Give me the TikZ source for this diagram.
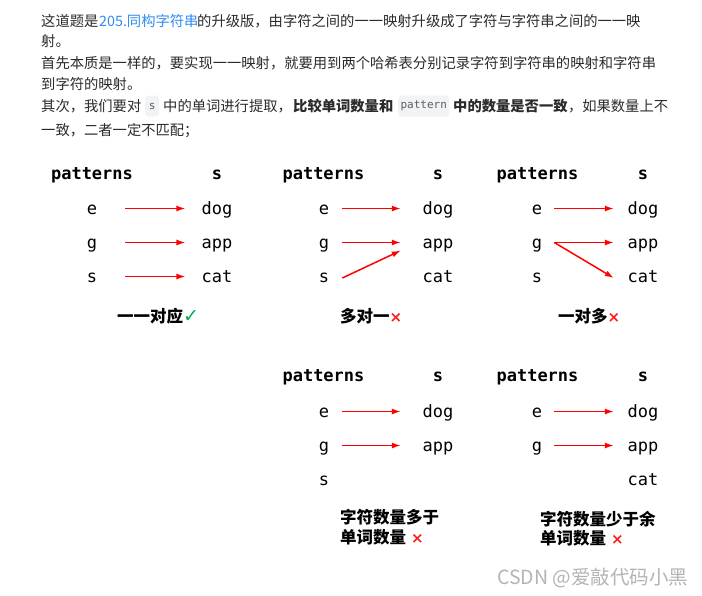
\documentclass[tikz,border=0pt]{standalone}
\usepackage{fontspec}
\setmainfont{Noto Sans CJK SC}
\newfontfamily\monof{DejaVu Sans Mono}
\newfontfamily\symf{DejaVu Sans}
\usetikzlibrary{arrows.meta}
\definecolor{bodyc}{HTML}{2B2B2B}
\definecolor{linkc}{HTML}{2F8CF2}
\definecolor{codebg}{HTML}{F2F3F5}
\definecolor{codetx}{HTML}{5A5F66}
\definecolor{arrred}{HTML}{FF0000}
\definecolor{xred}{HTML}{FF1A1A}
\definecolor{ckgreen}{HTML}{00B050}
\definecolor{wmc}{HTML}{B4B4B4}
\begin{document}
\begin{tikzpicture}[x=1pt,y=-1pt,
  body/.style={anchor=base west, inner sep=0, font=\fontsize{14.3}{17}\selectfont, text=bodyc},
  bodyb/.style={body, font=\bfseries\fontsize{14.3}{17}\selectfont},
  codebox/.style={anchor=west, fill=codebg, rounded corners=3.5pt, text=codetx,
    font=\monof\fontsize{11}{13}\selectfont, inner xsep=0pt, inner ysep=0pt, minimum height=21pt},
  mono/.style={inner sep=0, text height=11pt, text depth=0pt, font=\monof\fontsize{17}{20}\selectfont},
  hdr/.style={mono, font=\monof\bfseries\fontsize{17}{20}\selectfont},
  lbl/.style={anchor=base west, inner sep=0, font=\bfseries\fontsize{16.5}{20}\selectfont, text=black},
  arr/.style={draw=arrred, line width=1.5pt, -{Latex[length=9pt,width=6pt]}}]
\newcommand{\redx}{{\color{xred}\symf\bfseries\fontsize{15}{18}\selectfont ×}}
\newcommand{\grck}{{\color{ckgreen}\symf\bfseries\fontsize{19}{20}\selectfont ✓}}
\useasboundingbox[fill=white] (0,0) rectangle (702,595);

% ---------- paragraph text ----------
\node[body] (t1a) at (41,26) {这道题是};
\node[body, text=linkc] (t1b) at (99,26) {205.同构字符串};
\node[body] (t1c) at (197,26) {的升级版，由字符之间的一一映射升级成了字符与字符串之间的一一映};
\node[body] (t2) at (41,46.5) {射。};
\node[body] (t3) at (41,68.5) {首先本质是一样的，要实现一一映射，就要用到两个哈希表分别记录字符到字符串的映射和字符串};
\node[body] (t4) at (41,89.5) {到字符的映射。};
\node[body] (t5a) at (41,111.5) {其次，我们要对};
\node[codebox, minimum width=14pt] (c5a) at (145,106) {s};
\node[body] (t5b) at (163,111.5) {中的单词进行提取，};
\node[bodyb] (t5c) at (293,111.5) {比较单词数量和};
\node[codebox, minimum width=51pt] (c5b) at (398,106) {pattern};
\node[bodyb] (t5d) at (453,111.5) {中的数量是否一致};
\node[body, anchor=base west] (t5e) at (t5d.base east) {，如果数量上不};
\node[body] (t6) at (41,135.5) {一致，二者一定不匹配；};

% ---------- panel 1 : one-to-one ----------
\node[hdr] (h1p) at (92,173.5) {patterns};
\node[hdr] (h1s) at (217,173.5) {s};
\node[mono] (p1e) at (92,208.5) {e};
\node[mono] (p1g) at (92,242.5) {g};
\node[mono] (p1s) at (92,276.5) {s};
\node[mono] (w1d) at (217,208.5) {dog};
\node[mono] (w1a) at (217,242.5) {app};
\node[mono] (w1c) at (217,276.5) {cat};
\draw[arr] ([xshift=28pt]p1e.east) -- ([xshift=-16pt]w1d.west);
\draw[arr] ([xshift=28pt]p1g.east) -- ([xshift=-16pt]w1a.west);
\draw[arr] ([xshift=28pt]p1s.east) -- ([xshift=-16pt]w1c.west);
\node[lbl] (l1) at (117,322) {一一对应\grck};

% ---------- panel 2 : many-to-one ----------
\node[hdr] (h2p) at (323.5,173.5) {patterns};
\node[hdr] (h2s) at (438,173.5) {s};
\node[mono] (p2e) at (324,208.5) {e};
\node[mono] (p2g) at (324,242.5) {g};
\node[mono] (p2s) at (324,276.5) {s};
\node[mono] (w2d) at (438,208.5) {dog};
\node[mono] (w2a) at (438,242.5) {app};
\node[mono] (w2c) at (438,276.5) {cat};
\draw[arr] ([xshift=13pt]p2e.east) -- ([xshift=-21.6pt]w2d.west);
\draw[arr] ([xshift=13pt]p2g.east) -- ([xshift=-21.6pt]w2a.west);
\draw[arr] ([xshift=13pt,yshift=-1.5pt]p2s.east) -- ([xshift=-21.6pt,yshift=-8pt]w2a.west);
\node[lbl] (l2) at (340,322) {多对一\redx};

% ---------- panel 3 : one-to-many ----------
\node[hdr] (h3p) at (537.5,173.5) {patterns};
\node[hdr] (h3s) at (643,173.5) {s};
\node[mono] (p3e) at (537,208.5) {e};
\node[mono] (p3g) at (537,242.5) {g};
\node[mono] (p3s) at (537,276.5) {s};
\node[mono] (w3d) at (643,208.5) {dog};
\node[mono] (w3a) at (643,242.5) {app};
\node[mono] (w3c) at (643,276.5) {cat};
\draw[arr] ([xshift=12pt]p3e.east) -- ([xshift=-13.6pt]w3d.west);
\draw[arr] ([xshift=12pt]p3g.east) -- ([xshift=-13.6pt]w3a.west);
\draw[arr] ([xshift=12pt]p3g.east) -- ([xshift=-13.6pt,yshift=-1.5pt]w3c.west);
\node[lbl] (l3) at (558,322) {一对多\redx};

% ---------- panel 4 : more chars than words ----------
\node[hdr] (h4p) at (323.5,375.5) {patterns};
\node[hdr] (h4s) at (438,375.5) {s};
\node[mono] (p4e) at (324,411.5) {e};
\node[mono] (p4g) at (324,445.5) {g};
\node[mono] (p4s) at (324,479.5) {s};
\node[mono] (w4d) at (438,411.5) {dog};
\node[mono] (w4a) at (438,445.5) {app};
\draw[arr] ([xshift=13pt]p4e.east) -- ([xshift=-21.6pt]w4d.west);
\draw[arr] ([xshift=13pt]p4g.east) -- ([xshift=-21.6pt]w4a.west);
\node[lbl] (l4a) at (340,523) {字符数量多于};
\node[lbl] (l4b) at (340,543) {单词数量\hspace{5pt}\redx};

% ---------- panel 5 : fewer chars than words ----------
\node[hdr] (h5p) at (537.5,375.5) {patterns};
\node[hdr] (h5s) at (643,375.5) {s};
\node[mono] (p5e) at (537,411.5) {e};
\node[mono] (p5g) at (537,445.5) {g};
\node[mono] (w5d) at (643,411.5) {dog};
\node[mono] (w5a) at (643,445.5) {app};
\node[mono] (w5c) at (643,479.5) {cat};
\draw[arr] ([xshift=12pt]p5e.east) -- ([xshift=-13.6pt]w5d.west);
\draw[arr] ([xshift=12pt]p5g.east) -- ([xshift=-13.6pt]w5a.west);
\node[lbl] (l5a) at (540,525) {字符数量少于余};
\node[lbl] (l5b) at (540,544) {单词数量\hspace{5pt}\redx};

% ---------- watermark ----------
\node[anchor=base west, inner sep=0, text=wmc, font=\fontsize{19.5}{22}\selectfont] (wm) at (497,584) {CSDN @爱敲代码小黑};
\end{tikzpicture}
\end{document}
